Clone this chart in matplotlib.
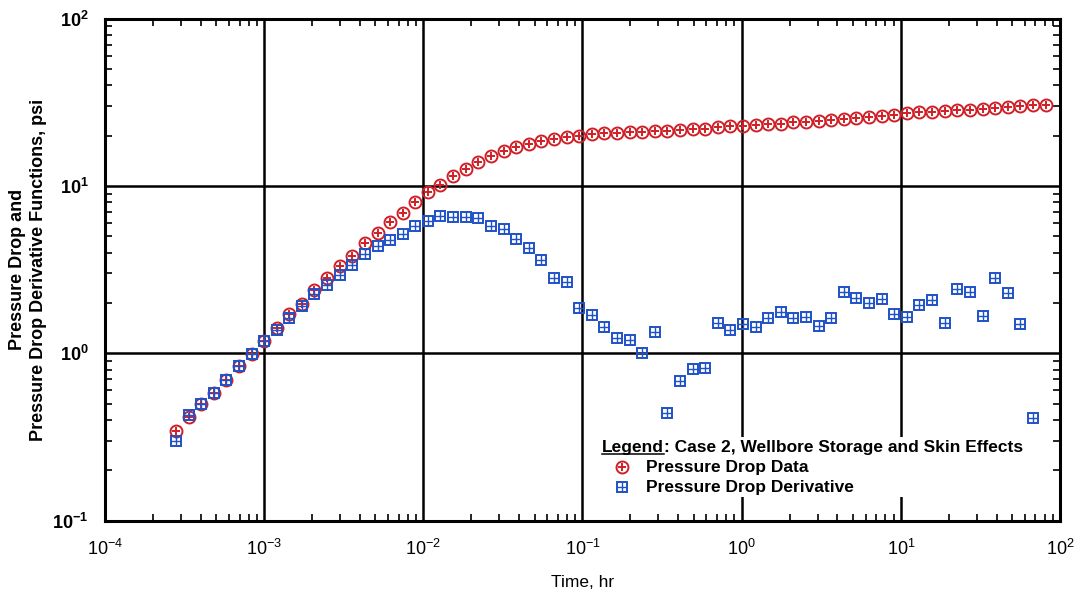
import matplotlib
matplotlib.use("Agg")
import matplotlib.pyplot as plt
from matplotlib.ticker import FixedLocator, NullFormatter, FixedFormatter

# ---- data -------------------------------------------------------------
time_hr = [
    2.79e-4, 3.35e-4, 4.02e-4, 4.82e-4, 5.79e-4, 6.94e-4, 8.33e-4, 1.00e-3,
    1.20e-3, 1.44e-3, 1.73e-3, 2.07e-3, 2.49e-3, 2.99e-3, 3.58e-3, 4.30e-3,
    5.16e-3, 6.19e-3, 7.43e-3, 8.92e-3, 1.07e-2, 1.28e-2, 1.54e-2, 1.85e-2,
    2.22e-2, 2.66e-2, 3.19e-2, 3.83e-2, 4.60e-2, 5.52e-2, 6.63e-2, 7.95e-2,
    9.54e-2, 0.1145, 0.1374, 0.1648, 0.1978, 0.2374, 0.2848, 0.3418,
    0.4101, 0.4922, 0.5906, 0.7087, 0.8505, 1.0206, 1.2247, 1.4697,
    1.7636, 2.1163, 2.5396, 3.0475, 3.6570, 4.3884, 5.2661, 6.3193,
    7.5832, 9.0998, 10.920, 13.104, 15.724, 18.869, 22.643, 27.172,
    32.606, 39.127, 46.953, 56.343, 67.612, 81.134,
]

pressure_drop = [
    0.344, 0.416, 0.496, 0.578, 0.694, 0.842, 0.989, 1.183,
    1.415, 1.715, 1.968, 2.374, 2.801, 3.303, 3.826, 4.557,
    5.23, 6.134, 6.943, 7.97, 9.194, 10.21, 11.40, 12.62,
    13.95, 15.15, 16.23, 17.22, 17.95, 18.55, 19.22, 19.60,
    20.04, 20.37, 20.71, 20.88, 21.09, 21.17, 21.38, 21.46,
    21.59, 21.89, 21.98, 22.44, 22.69, 22.90, 23.22, 23.44,
    23.54, 23.97, 24.30, 24.54, 24.87, 25.11, 25.67, 26.03,
    26.39, 26.46, 27.28, 27.66, 27.88, 28.27, 28.40, 28.55,
    28.94, 29.34, 29.63, 30.16, 30.45, 30.70,
]

pressure_derivative = [
    0.301, 0.425, 0.499, 0.578, 0.694, 0.842, 0.989, 1.183,
    1.382, 1.623, 1.922, 2.259, 2.557, 2.958, 3.381, 3.917,
    4.373, 4.750, 5.201, 5.783, 6.194, 6.636, 6.572, 6.572,
    6.430, 5.807, 5.549, 4.836, 4.289, 3.622, 2.816, 2.665,
    1.863, 1.699, 1.427, 1.243, 1.199, 1.007, 1.339, 0.439,
    0.685, 0.804, 0.822, 1.511, 1.382, 1.501, 1.446, 1.615,
    1.754, 1.615, 1.646, 1.460, 1.623, 2.341, 2.155, 1.996,
    2.126, 1.722, 1.646, 1.931, 2.088, 1.528, 2.420, 2.341,
    1.676, 2.816, 2.309, 1.501, 0.413,
]
derivative_time_hr = time_hr[:len(pressure_derivative)]

x_major = [1e-4, 1e-3, 1e-2, 1e-1, 1e0, 1e1, 1e2]
x_labels = ["$10^{-4}$", "$10^{-3}$", "$10^{-2}$", "$10^{-1}$",
            "$10^{0}$", "$10^{1}$", "$10^{2}$"]
y_major = [1e-1, 1e0, 1e1, 1e2]
y_labels = [r"$\mathbf{10^{-1}}$", r"$\mathbf{10^{0}}$",
            r"$\mathbf{10^{1}}$", r"$\mathbf{10^{2}}$"]

legend_title = "Case 2, Wellbore Storage and Skin Effects"
series_names = ["Pressure Drop Data", "Pressure Drop Derivative"]

RED = "#d01f26"
BLUE = "#1f52c8"

# ---- styling ----------------------------------------------------------
plt.rcParams["font.family"] = ["Liberation Sans", "DejaVu Sans"]
plt.rcParams["mathtext.fontset"] = "custom"
plt.rcParams["mathtext.rm"] = "Liberation Sans"
plt.rcParams["mathtext.it"] = "Liberation Sans:italic"
plt.rcParams["mathtext.bf"] = "Liberation Sans:bold"

fig = plt.figure(figsize=(10.76, 5.96), dpi=100)
ax = fig.add_axes([0.0976, 0.1265, 0.8875, 0.8421])

ax.set_xscale("log")
ax.set_yscale("log")
ax.set_xlim(1e-4, 1e2)
ax.set_ylim(1e-1, 1e2)

# grid on decades
for xv in x_major[1:-1]:
    ax.axvline(xv, color="black", lw=1.8, zorder=1)
for yv in y_major[1:-1]:
    ax.axhline(yv, color="black", lw=1.8, zorder=1)

# pressure drop: circle with a plus
ax.plot(time_hr, pressure_drop, linestyle="none", marker="o", ms=8.6,
        mfc="none", mec=RED, mew=1.4, zorder=3)
ax.plot(time_hr, pressure_drop, linestyle="none", marker="+", ms=5.2,
        color=RED, mew=1.4, zorder=3)

# derivative: boxed cross
ax.plot(derivative_time_hr, pressure_derivative, linestyle="none",
        marker="s", ms=7.6, mfc="none", mec=BLUE, mew=1.4, zorder=4)
ax.plot(derivative_time_hr, pressure_derivative, linestyle="none",
        marker="+", ms=7.6, color=BLUE, mew=1.0, zorder=4)

# ticks
ax.xaxis.set_major_locator(FixedLocator(x_major))
ax.xaxis.set_major_formatter(FixedFormatter(x_labels))
ax.yaxis.set_major_locator(FixedLocator(y_major))
ax.yaxis.set_major_formatter(FixedFormatter(y_labels))
minor_x = [m * d for d in x_major[:-1] for m in range(2, 10)]
minor_y = [m * d for d in y_major[:-1] for m in range(2, 10)]
ax.xaxis.set_minor_locator(FixedLocator(minor_x))
ax.yaxis.set_minor_locator(FixedLocator(minor_y))
ax.xaxis.set_minor_formatter(NullFormatter())
ax.yaxis.set_minor_formatter(NullFormatter())

ax.tick_params(which="major", length=0, pad=13)
ax.tick_params(axis="x", which="major", labelsize=13)
ax.tick_params(axis="y", which="major", labelsize=13, pad=12)
ax.tick_params(which="minor", direction="in", length=5, width=1.2,
               top=True, right=True, bottom=True, left=True, color="black")

for sp in ax.spines.values():
    sp.set_linewidth(2.2)
    sp.set_zorder(5)

ax.set_xlabel("Time, hr", fontsize=12.5, labelpad=12)
ax.set_ylabel("Pressure Drop and\nPressure Drop Derivative Functions, psi",
              fontsize=13, fontweight="bold", labelpad=4, linespacing=1.3)

# ---- legend block ----------------------------------------------------
ax.add_patch(plt.Rectangle((0.515, 0.047), 0.456, 0.12, transform=ax.transAxes,
                           facecolor="white", edgecolor="none", zorder=2))

fs_leg = 12.5
t1 = ax.text(0.5204, 0.1447, "Legend", transform=ax.transAxes, fontsize=fs_leg,
             fontweight="bold", va="center", ha="left", zorder=6)
fig.canvas.draw()
renderer = fig.canvas.get_renderer()
bb = t1.get_window_extent(renderer).transformed(ax.transAxes.inverted())
ax.text(bb.x1, 0.1447, ": " + legend_title, transform=ax.transAxes,
        fontsize=fs_leg, fontweight="bold", va="center", ha="left", zorder=6)
ax.plot([bb.x0, bb.x1], [bb.y0 + 0.003, bb.y0 + 0.003], transform=ax.transAxes,
        color="black", lw=1.1, zorder=6, clip_on=False)

entry_y = [0.1068, 0.0669]
ax.plot([0.5414], [entry_y[0]], transform=ax.transAxes, marker="o", ms=8.6,
        mfc="none", mec=RED, mew=1.4, linestyle="none", zorder=6, clip_on=False)
ax.plot([0.5414], [entry_y[0]], transform=ax.transAxes, marker="+", ms=5.2,
        color=RED, mew=1.4, linestyle="none", zorder=6, clip_on=False)
ax.plot([0.5414], [entry_y[1]], transform=ax.transAxes, marker="s", ms=7.6,
        mfc="none", mec=BLUE, mew=1.4, linestyle="none", zorder=6, clip_on=False)
ax.plot([0.5414], [entry_y[1]], transform=ax.transAxes, marker="+", ms=7.6,
        color=BLUE, mew=1.0, linestyle="none", zorder=6, clip_on=False)
for name, yy in zip(series_names, entry_y):
    ax.text(0.5665, yy, name, transform=ax.transAxes, fontsize=fs_leg,
            fontweight="bold", va="center", ha="left", zorder=6)

fig.savefig("out.png", dpi=100)
